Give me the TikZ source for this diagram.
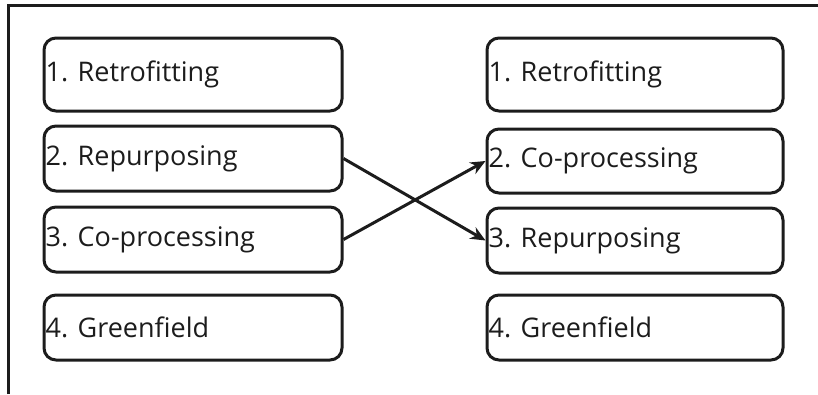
\documentclass[tikz,border=0pt]{standalone}
\usepackage{fontspec}
\setmainfont{Open Sans}
\usetikzlibrary{arrows.meta}
\definecolor{ink}{HTML}{1C1C1C}
\tikzset{
  option box/.style={draw=ink, line width=3pt, rounded corners=12pt},
  option text/.style={anchor=west, inner sep=0pt, text=ink, font=\fontsize{27}{31}\selectfont},
  swap arrow/.style={draw=ink, line width=3pt, -{Stealth[length=15pt,width=13pt]}}
}
\begin{document}
\begin{tikzpicture}[x=1pt, y=-1pt]
\useasboundingbox (0,0) rectangle (818,394);
% outer frame (top and left edges)
\draw[ink, line width=3pt] (8.5,394) -- (8.5,5.5) -- (818,5.5);
% left column
\node[option box, minimum width=298pt, minimum height=73pt] (L1) at (193,74.5) {};
\node[option box, minimum width=298pt, minimum height=65pt] (L2) at (193,158.5) {};
\node[option box, minimum width=298pt, minimum height=65pt] (L3) at (193,239.5) {};
\node[option box, minimum width=298pt, minimum height=65pt] (L4) at (193,327.5) {};
% right column
\node[option box, minimum width=296pt, minimum height=73pt] (R1) at (635,74.5) {};
\node[option box, minimum width=296pt, minimum height=64pt] (R2) at (635,161) {};
\node[option box, minimum width=296pt, minimum height=65pt] (R3) at (635,240.5) {};
\node[option box, minimum width=296pt, minimum height=65pt] (R4) at (635,327.5) {};
% labels
\node[option text] (tL1) at ([xshift=3pt]L1.west) {1. Retrofitting};
\node[option text] (tL2) at ([xshift=3pt]L2.west) {2. Repurposing};
\node[option text] (tL3) at ([xshift=3pt]L3.west) {3. Co-processing};
\node[option text] (tL4) at ([xshift=3pt]L4.west) {4. Greenfield};
\node[option text] (tR1) at ([xshift=3pt]R1.west) {1. Retrofitting};
\node[option text] (tR2) at ([xshift=3pt]R2.west) {2. Co-processing};
\node[option text] (tR3) at ([xshift=3pt]R3.west) {3. Repurposing};
\node[option text] (tR4) at ([xshift=3pt]R4.west) {4. Greenfield};
% reordering arrows
\draw[swap arrow] (L2.east) -- (R3.west);
\draw[swap arrow] (L3.east) -- (R2.west);
\end{tikzpicture}
\end{document}
